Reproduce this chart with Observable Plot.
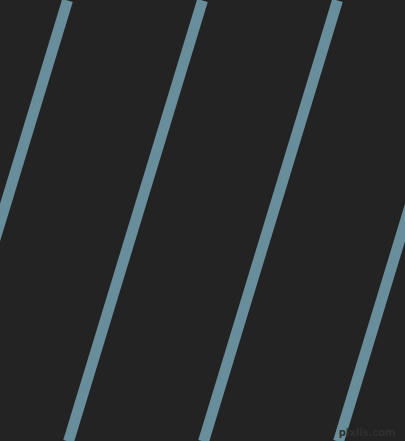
<!DOCTYPE html>
<html>
<head>
<meta charset="utf-8">
<script src="https://cdn.jsdelivr.net/npm/d3@7"></script>
<script src="https://cdn.jsdelivr.net/npm/@observablehq/plot@0.6"></script>
<style>
  html, body { margin: 0; padding: 0; background: #232323; overflow: hidden; }
  svg { display: block; }
</style>
</head>
<body>
<div id="chart"></div>
<script>
// Stripe positions (x at top edge and at bottom edge of the picture)
const stripeTopX = [67, 202, 337, 472];
const stripeBottomX = [-67, 68, 203, 338];
const watermark = ["pixlis.com"];

const W = 405, H = 441;
const stripes = stripeTopX.map((t, i) => ({ x1: t, x2: stripeBottomX[i] }));

const chart = Plot.plot({
  width: W,
  height: H,
  margin: 0,
  x: { domain: [0, W], range: [0, W], axis: null },
  y: { domain: [0, H], range: [0, H], axis: null },
  style: { background: "#232323" },
  marks: [
    Plot.link(stripes, {
      x1: "x1", y1: () => 0, x2: "x2", y2: () => H,
      stroke: "#688e9c", strokeWidth: 11, strokeLinecap: "butt", clip: true
    }),
    Plot.text(watermark, {
      x: () => 395, y: () => 432, text: d => d,
      textAnchor: "end", fill: "#303030", fontSize: 10,
      fontFamily: "DejaVu Sans", fontWeight: "bold"
    })
  ]
});
document.getElementById("chart").appendChild(chart);
</script>
</body>
</html>
